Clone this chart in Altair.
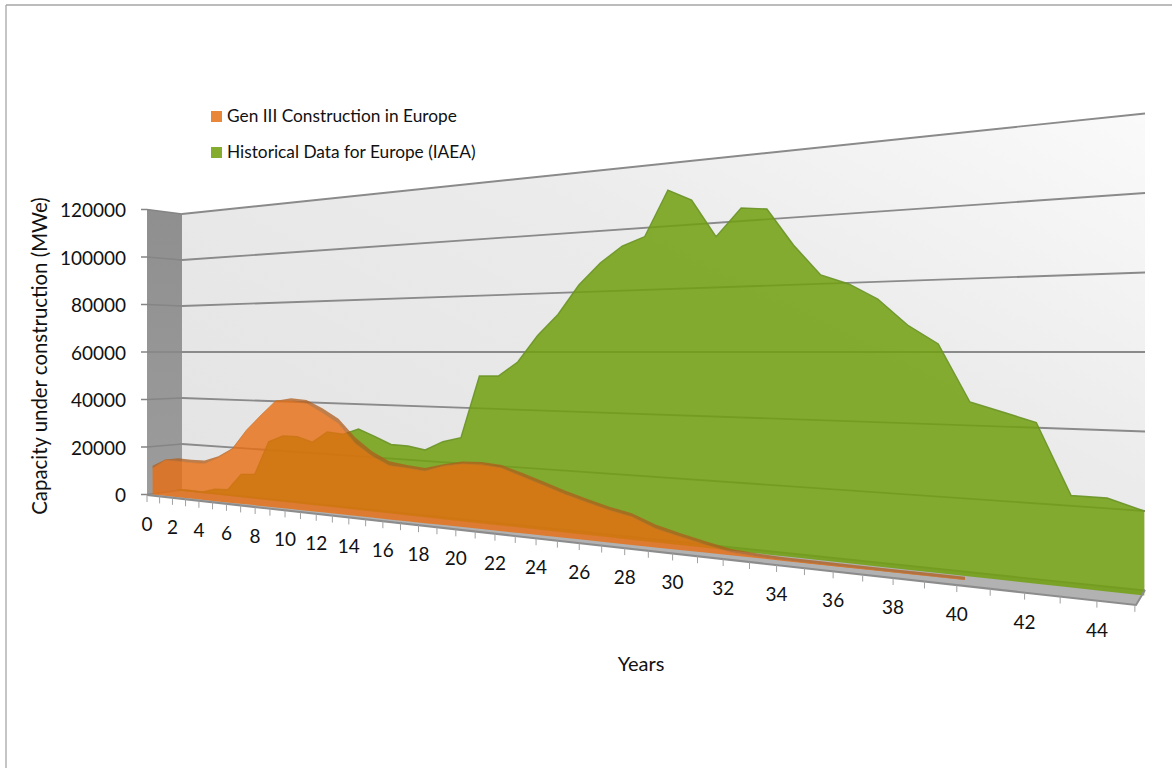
import altair as alt
import numpy as np
import pandas as pd

# Capacity under construction (MWe) by year of programme
green_mwe = [200, 470, 300, 2150, 2545, 9460, 9980, 23680, 26350, 26430, 24590, 28950,
             28400, 30760, 28270, 25660, 25480, 24430, 27810, 29610, 51590, 51690, 56580,
             65580, 72520, 82090, 88970, 94060, 96630, 110700, 106940, 95130, 103290,
             102390, 91270, 82180, 79310, 74830, 67440, 62170, 46640, 44220, 41740,
             23440, 23410, 20820]
orange_mwe = [11100, 14940, 14960, 14770, 14880, 17630, 21430, 29290, 35440, 41210, 41400,
              40720, 37370, 33600, 26560, 22320, 19320, 18890, 18270, 20460, 21720, 21890,
              21160, 18820, 16510, 14140, 12150, 10240, 8770, 5800, 4060, 2420, 970, 460,
              260, 200, 150, 150, 120, 100, 100]
grid_values = [0, 20000, 40000, 60000, 80000, 100000, 120000]
year_ticks = list(range(0, 46))
year_labels = list(range(0, 45, 2))
legend_names = ["Gen III Construction in Europe", "Historical Data for Europe (IAEA)"]

FONT = "Lato"
W, H = 1172, 768
HORIZON_Y = 352.0
HORIZON_V = 60000.0
PERSPECTIVE = 0.009589


def stretch(t):
    t = np.asarray(t, dtype=float)
    return t / (1 - PERSPECTIVE * t)


def series_points(values, x0, gain, base0, base_x0, base_slope):
    """Project one series from (year, MWe) on to its receding depth plane."""
    t = np.arange(len(values))
    x = x0 + gain * stretch(t)
    base = base0 + base_slope * (x - base_x0)
    top = HORIZON_Y + (base - HORIZON_Y) * (1 - np.asarray(values) / HORIZON_V)
    return pd.DataFrame({"year": t, "x": x, "y": top, "y2": base})


def wall_y(x, v, x_a, s_a, x_b, s_b):
    spacing = s_a + (np.asarray(x, dtype=float) - x_a) * (s_b - s_a) / (x_b - x_a)
    return HORIZON_Y + (HORIZON_V - v) / 20000.0 * spacing


def front_x(t):
    return 147 + 12.48 * stretch(t)


def front_y(x):
    return 495 + 0.1112 * (np.asarray(x, dtype=float) - 147)


def back_y(x):
    return wall_y(x, 0, 182, 46, 1145, 79.5)


def top_band(df, dx, dy):
    """Sloped top surface of a 3-D area: visible only where the outline falls."""
    shifted = np.interp(df["x"], df["x"] + dx, df["y"] - dy)
    out = df.copy()
    out["y2"] = np.minimum(shifted, df["y"])
    return out


X = alt.X("x:Q", scale=alt.Scale(domain=[0, W], range=[0, W], nice=False, zero=False), axis=None)
Y = alt.Y("y:Q", scale=alt.Scale(domain=[0, H], range=[0, H], nice=False, zero=False), axis=None)
Y2 = alt.Y2("y2:Q")
X2 = alt.X2("x2:Q")

green = series_points(green_mwe, 177, 12.22, 490.8, 182, 0.1088)
orange = series_points(orange_mwe, 152.6, 12.52, 494.5, 152.7, 0.1052)

# Frame of the chart area: left and top edges
frame = pd.DataFrame({"x": [6, 6], "x2": [6, W], "y": [5, 5], "y2": [H, 5]})
frame_layer = alt.Chart(frame).mark_rule(color="#a6a6a6", strokeWidth=1.3).encode(X, X2, Y, Y2)

# Back wall
wx = np.array([182.0, 1145.0])
wall = pd.DataFrame({"x": wx, "y": wall_y(wx, 120000, 182, 46, 1145, 79.5),
                     "y2": wall_y(wx, 0, 182, 46, 1145, 79.5)})
wall_layer = alt.Chart(wall).mark_area(
    color=alt.Gradient(gradient="linear", x1=0, y1=1, x2=1, y2=0,
                       stops=[alt.GradientStop(color="#e2e2e2", offset=0),
                              alt.GradientStop(color="#ebebeb", offset=0.6),
                              alt.GradientStop(color="#fafafa", offset=1)])
).encode(X, Y, Y2)

# Side wall
sx = np.array([147.0, 182.0])
side = pd.DataFrame({"x": sx, "y": wall_y(sx, 120000, 147, 47.5, 182, 46),
                     "y2": wall_y(sx, 0, 147, 47.5, 182, 46)})
side_layer = alt.Chart(side).mark_area(
    color=alt.Gradient(gradient="linear", x1=0, y1=0, x2=0, y2=1,
                       stops=[alt.GradientStop(color="#8f8f8f", offset=0),
                              alt.GradientStop(color="#9c9c9c", offset=1)])
).encode(X, Y, Y2)

# Floor
fx = np.array([147.0, 182.0, 1136.0, 1145.0])
floor = pd.DataFrame({
    "x": fx,
    "y": [494.5, float(back_y(182.0)), float(back_y(1136.0)), 590.5],
    "y2": [494.5, float(front_y(182.0)), 605.0, 590.5],
})
floor_layer = alt.Chart(floor).mark_area(color="#b2b2b2").encode(X, Y, Y2)

# Gridlines
rows = []
for v in grid_values:
    rows.append({"v": v, "x": 182.0, "y": float(wall_y(182.0, v, 182, 46, 1145, 79.5))})
    rows.append({"v": v, "x": 1145.0, "y": float(wall_y(1145.0, v, 182, 46, 1145, 79.5))})
grid_layer = alt.Chart(pd.DataFrame(rows)).mark_line(color="#8a8a8a", strokeWidth=1.8).encode(
    X, Y, detail="v:N")

rows = []
for v in grid_values:
    y_left = float(wall_y(147.0, v, 147, 47.5, 182, 46))
    rows.append({"v": v, "x": 141.0, "y": y_left})
    rows.append({"v": v, "x": 147.0, "y": y_left})
    rows.append({"v": v, "x": 182.0, "y": float(wall_y(182.0, v, 147, 47.5, 182, 46))})
side_grid_layer = alt.Chart(pd.DataFrame(rows)).mark_line(color="#858585", strokeWidth=1.4).encode(
    X, Y, detail="v:N")

# Series, far one first
green_area = alt.Chart(green).mark_area(color="#709f0f", opacity=0.86).encode(X, Y, Y2)
green_edge = alt.Chart(green).mark_line(color="#6a9326", strokeWidth=1.4, opacity=0.9).encode(X, Y)
orange_area = alt.Chart(orange).mark_area(color="#e66d10", opacity=0.8).encode(X, Y, Y2)
orange_band = alt.Chart(top_band(orange, 3, 2.5)).mark_area(color="#b05c1c", opacity=0.75).encode(X, Y, Y2)
orange_edge = alt.Chart(orange).mark_line(color="#c56e28", strokeWidth=1, opacity=0.6).encode(X, Y)

# Category axis
ax = pd.DataFrame({"x": [147.0, 1136.0, 1145.0], "y": [495.0, 605.0, 590.0]})
axis_line = alt.Chart(ax).mark_line(color="#8c8c8c", strokeWidth=2).encode(
    X, Y, order=alt.Order("x:Q"))
tx = front_x(year_ticks)
ticks = pd.DataFrame({"x": tx, "y": front_y(tx), "y2": front_y(tx) + 7})
tick_layer = alt.Chart(ticks).mark_rule(color="#a0a0a0", strokeWidth=1).encode(X, Y, Y2)

lx = front_x(year_labels)
year_text = pd.DataFrame({"x": lx, "y": front_y(lx) + 30,
                          "label": [str(t) for t in year_labels]})
year_layer = alt.Chart(year_text).mark_text(font=FONT, fontSize=19, color="#111111", align="center",
                                            baseline="middle").encode(X, Y, text="label:N")

# Value axis
value_text = pd.DataFrame({"x": [126.0] * len(grid_values),
                           "y": wall_y(147.0, np.array(grid_values), 147, 47.5, 182, 46) + 1.5,
                           "label": [str(v) for v in grid_values]})
value_layer = alt.Chart(value_text).mark_text(font=FONT, fontSize=19, color="#111111", align="right",
                                              baseline="middle").encode(X, Y, text="label:N")

y_title = alt.Chart(pd.DataFrame({"x": [41.0], "y": [356.0], "t": ["Capacity under construction (MWe)"]})
                    ).mark_text(font=FONT, fontSize=20.4, color="#111111", angle=270, align="center",
                                baseline="middle").encode(X, Y, text="t:N")
x_title = alt.Chart(pd.DataFrame({"x": [641.0], "y": [665.0], "t": ["Years"]})
                    ).mark_text(font=FONT, fontSize=20, color="#111111", align="center",
                                baseline="middle").encode(X, Y, text="t:N")

# Legend
keys = pd.DataFrame({"x": [216.5, 216.5], "y": [116.5, 152.5], "c": ["#e8873a", "#84ac2f"],
                     "label": legend_names, "tx": [227.0, 227.0]})
key_layer = alt.Chart(keys).mark_square(size=121, opacity=1).encode(
    X, Y, fill=alt.Fill("c:N", scale=None), stroke=alt.value(None))
key_text = alt.Chart(keys).mark_text(font=FONT, fontSize=17.3, color="#111111", align="left",
                                     baseline="middle").encode(
    alt.X("tx:Q", scale=alt.Scale(domain=[0, W], range=[0, W], nice=False, zero=False), axis=None),
    Y, text="label:N")

chart = alt.layer(
    frame_layer, wall_layer, side_layer, floor_layer, side_grid_layer, grid_layer,
    green_area, green_edge, orange_band, orange_area, orange_edge,
    axis_line, tick_layer, year_layer, value_layer, y_title, x_title, key_layer, key_text,
).properties(width=W, height=H, padding=0, autosize=alt.AutoSizeParams(type="none"),
             background="white").configure_view(stroke=None)

chart.save("out.html", embed_options={"renderer": "svg", "actions": False})
